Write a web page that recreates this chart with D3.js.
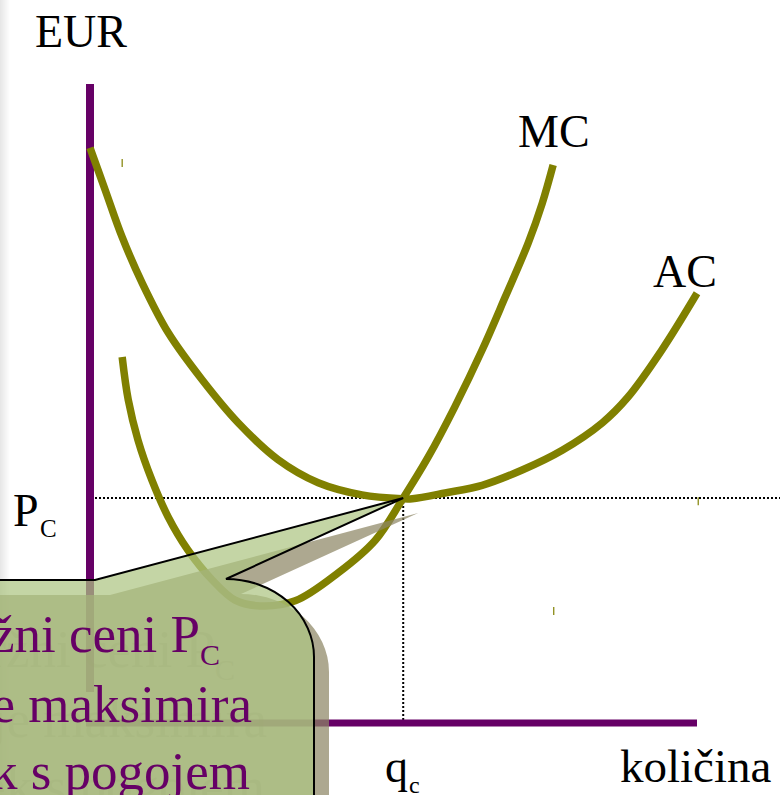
<!DOCTYPE html>
<html><head><meta charset="utf-8">
<script src="https://cdn.jsdelivr.net/npm/d3@7"></script>
<style>html,body{margin:0;padding:0;background:#fff;overflow:hidden}</style>
</head><body>
<svg id="c" width="780" height="795"></svg>
<script>
// ---- data (quantity 0..100, price 0..100) ----
const acCurve = [[0,90.0],[2.5,83.4],[5.3,76.0],[8.6,68.8],[12.9,61.0],[18.5,53.6],[24.4,46.9],[31.0,41.1],[37.6,37.5],[44.8,35.6],[51.4,35.0],[53.1,35.0],[58.5,35.9],[64.6,37.1],[71.2,39.5],[77.8,42.6],[84.4,46.9],[88.6,50.9],[94.2,58.3],[100,67.2]];
const mcCurve = [[5.3,57.2],[6.3,50.5],[7.9,44.2],[10.2,37.9],[12.9,32.1],[16.1,27.0],[20.1,22.3],[23.9,19.1],[28.0,18.2],[33.8,19.0],[40.9,23.4],[47.0,28.5],[51.4,34.8],[55.7,41.5],[60.1,49.4],[64.6,58.3],[68.4,66.6],[72.2,75.1],[74.5,81.3],[76.3,87.3]];
const curveNames = ["MC","AC"];
const equilibrium = {q:51.6, p:35.1};
const specks = [[5.3,87.6],[100.2,34.6],[76.4,17.4]];
const calloutLines = [["tržni ceni P","C"],["podjetje maksimira",""],["dobiček s pogojem",""]];

const svg = d3.select("#c");
const x = d3.scaleLinear().domain([0,100]).range([90,697]);
const y = d3.scaleLinear().domain([0,100]).range([722,84]);
const olive = "#808000", purple = "#660066";
const serif = "'Liberation Serif','Times New Roman',serif";

// left edge faint shadow
const defs = svg.append("defs");
const lg = defs.append("linearGradient").attr("id","lg").attr("x1",0).attr("x2",1);
lg.append("stop").attr("offset",0).attr("stop-color","#e6e6e6");
lg.append("stop").attr("offset",1).attr("stop-color","#ffffff");
svg.append("rect").attr("x",0).attr("y",0).attr("width",10).attr("height",795).attr("fill","url(#lg)");

// dotted guides
const X0 = x(equilibrium.q), Y0 = y(equilibrium.p);
svg.append("line").attr("x1",x(0)+5).attr("x2",780).attr("y1",Y0).attr("y2",Y0)
  .attr("stroke","#000").attr("stroke-width",2).attr("stroke-dasharray","2,2");
svg.append("line").attr("x1",X0).attr("x2",X0).attr("y1",Y0).attr("y2",y(0))
  .attr("stroke","#000").attr("stroke-width",2).attr("stroke-dasharray","2,2");

// axes
svg.append("line").attr("x1",x(0)).attr("x2",x(0)).attr("y1",y(100)).attr("y2",692)
  .attr("stroke",purple).attr("stroke-width",8);
svg.append("line").attr("x1",x(0)-4).attr("x2",x(100)).attr("y1",y(0)+1).attr("y2",y(0)+1)
  .attr("stroke",purple).attr("stroke-width",7);

// curves
const line = d3.line().x(d=>x(d[0])).y(d=>y(d[1])).curve(d3.curveCatmullRom.alpha(0.5));
[mcCurve, acCurve].forEach(c=>{
  svg.append("path").attr("d",line(c)).attr("fill","none").attr("stroke",olive).attr("stroke-width",7.5);
});
svg.selectAll(".sp").data(specks).enter().append("line")
  .attr("x1",d=>x(d[0])).attr("x2",d=>x(d[0])).attr("y1",d=>y(d[1])-4).attr("y2",d=>y(d[1])+4)
  .attr("stroke",olive).attr("stroke-width",1.2);

// labels
const lab = (t,px,py,fs)=>svg.append("text").attr("x",px).attr("y",py).attr("font-family",serif).attr("font-size",fs).attr("fill","#000").text(t);
lab("EUR",35,47,46);
lab(curveNames[0],518,147,46);
lab(curveNames[1],653,287,46);
lab("P",13,526,46); lab("C",40,537,25);
lab("q",385,782,46); lab("c",409,793,24);
lab("količina",620,782,47);

// callout
const tipX = X0, tipY = Y0;
function calloutPath(dx,dy){
  const p = d3.path();
  p.moveTo(-60+dx,580+dy);
  p.lineTo(95+dx,580+dy);
  p.lineTo(tipX+dx,tipY+dy);
  p.lineTo(226+dx,579+dy);
  return p.toString() + ` A 88 78 0 0 1 ${314+dx} ${657+dy} L ${314+dx} 900 L ${-60+dx} 900 Z`;
}
function calloutText(g,dx,dy,fill,op){
  const ends = [200,252,250], base = [652,722,789];
  calloutLines.forEach((l,i)=>{
    g.append("text").attr("x",ends[i]+dx).attr("y",base[i]+dy).attr("text-anchor","end")
      .attr("font-family",serif).attr("font-size",53).attr("fill",fill).attr("opacity",op).text(l[0]);
    if(l[1]) g.append("text").attr("x",ends[i]+dx).attr("y",base[i]+13+dy)
      .attr("font-family",serif).attr("font-size",30).attr("fill",fill).attr("opacity",op).text(l[1]);
  });
}
const sh = svg.append("g");
sh.append("path").attr("d",calloutPath(15,15)).attr("fill","rgb(141,135,101)").attr("fill-opacity",0.72);
calloutText(sh,15,15,"rgb(110,105,75)",0.22);
const fg = svg.append("g");
fg.append("path").attr("d",calloutPath(0,0)).attr("fill","rgb(173,197,130)").attr("fill-opacity",0.72)
  .attr("stroke","#000").attr("stroke-width",2);
calloutText(fg,0,0,purple,1);
</script>
</body></html>
